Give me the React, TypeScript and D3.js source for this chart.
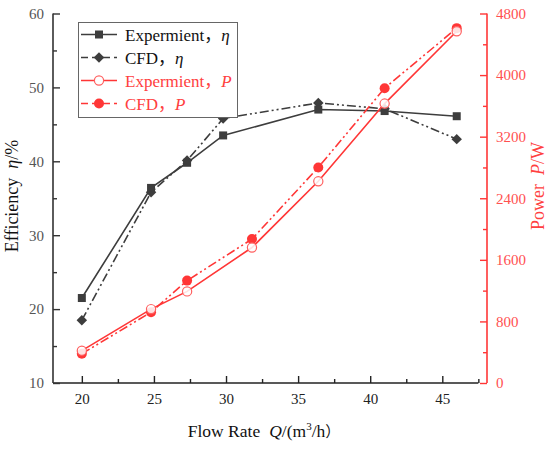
import * as d3 from "d3";
import { useEffect, useRef } from "react";

// flow rates (m3/h)
const flowEta = [20, 24.8, 27.3, 29.8, 36.4, 41, 46];
const flowPower = [20, 24.8, 27.3, 31.8, 36.4, 41, 46];

// efficiency %
const etaExp = [21.5, 36.4, 39.8, 43.5, 47.0, 46.8, 46.1];
const etaCfd = [18.5, 35.8, 40.1, 45.8, 47.9, 47.1, 43.0];

// power W
const powerExp = [420, 960, 1190, 1760, 2620, 3630, 4570];
const powerCfd = [380, 920, 1330, 1870, 2800, 3830, 4610];

const xTicks = [20, 25, 30, 35, 40, 45];
const etaTicks = [10, 20, 30, 40, 50, 60];
const powerTicks = [0, 800, 1600, 2400, 3200, 4000, 4800];

const DARK = "#3d3d3d";
const RED = "#ff3636";
const FONT = "Liberation Serif, DejaVu Serif, serif";
const CJK = "Noto Sans CJK SC, sans-serif";
const DASHDOT = "9,3,2,3,2,3";

const App = () => {
  const ref = useRef<SVGSVGElement>(null);

  useEffect(() => {
    const svg = d3.select(ref.current);
    svg.selectAll("*").remove();

    const left = 53, right = 487, top = 13.5, bottom = 383;

    const x = d3.scaleLinear().domain([18, 48.1]).range([left, right]);
    const yL = d3.scaleLinear().domain([10, 60]).range([bottom, top]);
    const yR = d3.scaleLinear().domain([0, 4800]).range([bottom, top]);
    const fmt = d3.format("d");

    // bottom axis
    const gx = svg.append("g").attr("transform", `translate(0,${bottom})`);
    gx.call(d3.axisBottom(x).tickValues(xTicks).tickSize(-7).tickPadding(10).tickFormat(fmt) as any);
    gx.call((g) => g.select(".domain").remove());
    svg.append("g").attr("transform", `translate(0,${bottom})`)
      .call(d3.axisBottom(x).tickValues(d3.range(22.5, 48, 5)).tickSize(-4).tickFormat(() => "") as any)
      .call((g) => g.select(".domain").remove());
    svg.append("line")
      .attr("x1", left).attr("x2", x(47.5))
      .attr("y1", bottom).attr("y2", bottom)
      .attr("stroke", "#222").attr("stroke-width", 1.6);
    svg.selectAll("g .tick line").attr("stroke", "#222").attr("stroke-width", 1.4);
    gx.selectAll("text").attr("fill", "#222");

    // left axis
    const gl = svg.append("g").attr("transform", `translate(${left},0)`);
    gl.call(d3.axisLeft(yL).tickValues(etaTicks).tickSize(-7).tickPadding(9).tickFormat(fmt) as any);
    gl.append("g").call(d3.axisLeft(yL).tickValues(d3.range(15, 60, 10)).tickSize(-4).tickFormat(() => "") as any)
      .call((g) => g.select(".domain").remove());
    gl.select(".domain").remove();
    gl.append("line").attr("y1", top).attr("y2", bottom).attr("stroke", "#333").attr("stroke-width", 1.6);
    gl.selectAll(".tick line").attr("stroke", "#333").attr("stroke-width", 1.4);
    gl.selectAll("text").attr("fill", "#555");

    // right axis
    const gr = svg.append("g").attr("transform", `translate(${right},0)`);
    gr.call(d3.axisRight(yR).tickValues(powerTicks).tickSize(-7).tickPadding(9).tickFormat(fmt) as any);
    gr.append("g").call(d3.axisRight(yR).tickValues(d3.range(400, 4800, 800)).tickSize(-4).tickFormat(() => "") as any)
      .call((g) => g.select(".domain").remove());
    gr.select(".domain").remove();
    gr.append("line").attr("y1", top).attr("y2", bottom).attr("stroke", RED).attr("stroke-width", 1.6);
    gr.selectAll(".tick line").attr("stroke", RED).attr("stroke-width", 1.4);
    gr.selectAll("text").attr("fill", "#ff5050");

    svg.selectAll("g").attr("font-family", null).attr("font-size", null);
    svg.selectAll(".tick text").style("font-family", FONT).style("font-size", "15px");

    // series
    const etaLine = d3.line<number>().x((_, i) => x(flowEta[i])).y((d) => yL(d));
    const powLine = d3.line<number>().x((_, i) => x(flowPower[i])).y((d) => yR(d));

    svg.append("path").datum(etaCfd).attr("d", etaLine).attr("fill", "none")
      .attr("stroke", DARK).attr("stroke-width", 1.6).attr("stroke-dasharray", DASHDOT);
    svg.append("path").datum(etaExp).attr("d", etaLine).attr("fill", "none")
      .attr("stroke", DARK).attr("stroke-width", 1.6);

    const diamond = d3.symbol().type(d3.symbolDiamond2).size(70);
    svg.selectAll(".dia").data(etaCfd).join("path")
      .attr("transform", (d, i) => `translate(${x(flowEta[i])},${yL(d)})`)
      .attr("d", diamond).attr("fill", DARK);
    svg.selectAll(".sq").data(etaExp).join("rect")
      .attr("x", (_, i) => x(flowEta[i]) - 4).attr("y", (d) => yL(d) - 4)
      .attr("width", 8).attr("height", 8).attr("fill", DARK);

    svg.append("path").datum(powerCfd).attr("d", powLine).attr("fill", "none")
      .attr("stroke", RED).attr("stroke-width", 1.6).attr("stroke-dasharray", DASHDOT);
    svg.append("path").datum(powerExp).attr("d", powLine).attr("fill", "none")
      .attr("stroke", RED).attr("stroke-width", 1.6);

    svg.selectAll(".pc").data(powerCfd).join("circle")
      .attr("cx", (_, i) => x(flowPower[i])).attr("cy", (d) => yR(d))
      .attr("r", 5).attr("fill", RED);
    svg.selectAll(".pe").data(powerExp).join("circle")
      .attr("cx", (_, i) => x(flowPower[i])).attr("cy", (d) => yR(d))
      .attr("r", 4.6).attr("fill", "white").attr("fill-opacity", 0.85)
      .attr("stroke", "#ff6060").attr("stroke-width", 1.2);

    // legend
    const lg = svg.append("g");
    lg.append("rect").attr("x", 78.5).attr("y", 22.5).attr("width", 159).attr("height", 95)
      .attr("fill", "white").attr("stroke", "#666").attr("stroke-width", 1);
    const items = [
      { name: "Expermient", sym: "η", color: DARK, dash: null, marker: "sq" },
      { name: "CFD", sym: "η", color: DARK, dash: "7,4", marker: "dia" },
      { name: "Expermient", sym: "P", color: RED, dash: null, marker: "open" },
      { name: "CFD", sym: "P", color: RED, dash: "7,4", marker: "dot" },
    ];
    items.forEach((it, i) => {
      const cy = 34.5 + i * 23;
      lg.append("line").attr("x1", 81).attr("x2", 117).attr("y1", cy).attr("y2", cy)
        .attr("stroke", it.color).attr("stroke-width", 1.6)
        .attr("stroke-dasharray", it.dash ?? "none");
      const mx = 99;
      if (it.marker === "sq") lg.append("rect").attr("x", mx - 4).attr("y", cy - 4).attr("width", 8).attr("height", 8).attr("fill", DARK);
      if (it.marker === "dia") lg.append("path").attr("transform", `translate(${mx},${cy})`).attr("d", diamond).attr("fill", DARK);
      if (it.marker === "open") lg.append("circle").attr("cx", mx).attr("cy", cy).attr("r", 4.6).attr("fill", "white").attr("stroke", "#ff6060").attr("stroke-width", 1.2);
      if (it.marker === "dot") lg.append("circle").attr("cx", mx).attr("cy", cy).attr("r", 5).attr("fill", RED);
      const t = lg.append("text").attr("x", 125).attr("y", cy + 6)
        .style("font-family", FONT).style("font-size", "17px")
        .attr("fill", it.color === RED ? "#ff4040" : "#111");
      t.append("tspan").text(it.name);
      t.append("tspan").style("font-family", CJK).text("，");
      t.append("tspan").attr("font-style", "italic").text(it.sym);
    });

    // axis titles
    const xt = svg.append("text").attr("x", 264).attr("y", 437).attr("text-anchor", "middle")
      .style("font-family", FONT).style("font-size", "17.5px").attr("fill", "#111");
    xt.append("tspan").text("Flow Rate");
    xt.append("tspan").attr("dx", 9).attr("font-style", "italic").text("Q");
    xt.append("tspan").text("/(m");
    xt.append("tspan").attr("font-size", 11).attr("dy", -7).text("3");
    xt.append("tspan").attr("dy", 7).text("/h");
    xt.append("tspan").style("font-family", CJK).attr("font-size", 15).text("）");

    const yt = svg.append("text").attr("transform", "translate(18,196) rotate(-90)")
      .attr("text-anchor", "middle").style("font-family", FONT).style("font-size", "18px").attr("fill", "#111");
    yt.append("tspan").text("Efficiency");
    yt.append("tspan").attr("dx", 9).attr("font-style", "italic").text("η");
    yt.append("tspan").text("/%");

    const rt = svg.append("text").attr("transform", "translate(544,186) rotate(-90)")
      .attr("text-anchor", "middle").style("font-family", FONT).style("font-size", "18px").attr("fill", "#ff4040");
    rt.append("tspan").text("Power");
    rt.append("tspan").attr("dx", 9).attr("font-style", "italic").text("P");
    rt.append("tspan").text("/W");
  }, []);

  return (
    <svg
      ref={ref}
      width={550}
      height={450}
      style={{ position: "absolute", left: 0, top: 0, background: "white" }}
    />
  );
};

export default App;
